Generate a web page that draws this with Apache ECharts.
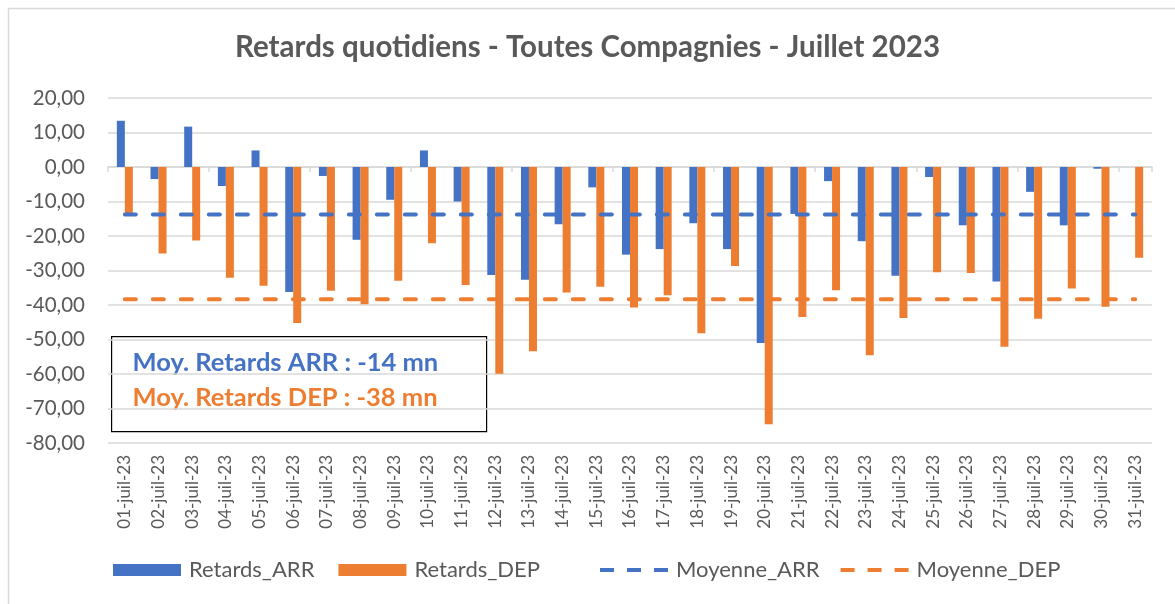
<!DOCTYPE html>
<html>
<head>
<meta charset="utf-8">
<script src="https://cdn.jsdelivr.net/npm/echarts@6/dist/echarts.min.js"></script>
<style>
  html, body { margin: 0; padding: 0; background: #fff; }
  #chart { width: 1175px; height: 604px; }
</style>
</head>
<body>
<div id="chart"></div>
<script>
// jours du mois
var jours = [
  "01-juil-23", "02-juil-23", "03-juil-23", "04-juil-23", "05-juil-23", "06-juil-23",
  "07-juil-23", "08-juil-23", "09-juil-23", "10-juil-23", "11-juil-23", "12-juil-23",
  "13-juil-23", "14-juil-23", "15-juil-23", "16-juil-23", "17-juil-23", "18-juil-23",
  "19-juil-23", "20-juil-23", "21-juil-23", "22-juil-23", "23-juil-23", "24-juil-23",
  "25-juil-23", "26-juil-23", "27-juil-23", "28-juil-23", "29-juil-23", "30-juil-23",
  "31-juil-23"
];
// retards arrivée (mn)
var retardsArr = [
  13.4, -3.5, 11.7, -5.5, 4.8, -36.2, -2.6, -21.1, -9.5, 4.8, -10.0,
  -31.3, -32.7, -16.6, -5.9, -25.4, -23.8, -16.3, -23.8, -51.0, -13.6,
  -4.1, -21.5, -31.5, -2.9, -16.9, -33.2, -7.2, -16.9, -0.5, 0
];
// retards départ (mn)
var retardsDep = [
  -13.5, -25.1, -21.3, -32.1, -34.4, -45.2, -35.9, -39.8, -33.0, -22.1, -34.2,
  -59.9, -53.4, -36.4, -34.7, -40.7, -37.2, -48.2, -28.7, -74.6, -43.5,
  -35.7, -54.6, -43.8, -30.5, -30.7, -52.1, -44.0, -35.2, -40.5, -26.3
];
// moyennes
var moyenneArr = [
  -13.8, -13.8, -13.8, -13.8, -13.8, -13.8, -13.8, -13.8, -13.8, -13.8, -13.8,
  -13.8, -13.8, -13.8, -13.8, -13.8, -13.8, -13.8, -13.8, -13.8, -13.8,
  -13.8, -13.8, -13.8, -13.8, -13.8, -13.8, -13.8, -13.8, -13.8, -13.8
];
var moyenneDep = [
  -38.3, -38.3, -38.3, -38.3, -38.3, -38.3, -38.3, -38.3, -38.3, -38.3, -38.3,
  -38.3, -38.3, -38.3, -38.3, -38.3, -38.3, -38.3, -38.3, -38.3, -38.3,
  -38.3, -38.3, -38.3, -38.3, -38.3, -38.3, -38.3, -38.3, -38.3, -38.3
];

var bleu = "#4472C4";
var orange = "#ED7D31";
var gris = "#595959";
var police = "Lato";
// icône pointillée pour la légende des moyennes
var iconeTirets = "path://M0,0h14v4h-14z M27,0h14v4h-14z M54,0h14v4h-14z";

var legendeBase = {
  top: 554,
  itemWidth: 68,
  itemHeight: 12,
  symbolKeepAspect: true,
  textStyle: { fontFamily: police, fontSize: 22, color: gris, padding: [0, 0, 0, 3] }
};

var myChart = echarts.init(document.getElementById("chart"));
var option = {
  animation: false,
  textStyle: { fontFamily: police },
  title: {
    text: "Retards quotidiens - Toutes Compagnies - Juillet 2023",
    left: "center",
    top: 27,
    textStyle: { fontFamily: police, fontSize: 29.5, fontWeight: "bold", color: gris }
  },
  grid: { left: 108, right: 23, top: 98, bottom: 161 },
  legend: [
    Object.assign({}, legendeBase, {
      left: 108,
      itemGap: 24,
      data: [
        { name: "Retards_ARR", icon: "rect" },
        { name: "Retards_DEP", icon: "rect" }
      ]
    }),
    Object.assign({}, legendeBase, {
      left: 595,
      itemGap: 21,
      data: [
        { name: "Moyenne_ARR", icon: iconeTirets, itemStyle: { color: bleu } },
        { name: "Moyenne_DEP", icon: iconeTirets, itemStyle: { color: orange } }
      ]
    })
  ],
  xAxis: [
    {
      type: "category",
      data: jours,
      axisLine: { show: false, onZero: false },
      axisTick: { show: false },
      axisLabel: {
        rotate: 90,
        interval: 0,
        margin: 12,
        fontFamily: police,
        fontSize: 17,
        color: gris
      }
    },
    {
      type: "category",
      data: jours,
      position: "bottom",
      axisLine: { show: true, onZero: true, lineStyle: { color: "#d9d9d9", width: 1.5 } },
      axisTick: { show: true, length: 5, lineStyle: { color: "#d9d9d9", width: 1.5 } },
      axisLabel: { show: false }
    }
  ],
  yAxis: {
    type: "value",
    min: -80,
    max: 20,
    interval: 10,
    axisLine: { show: false },
    axisTick: { show: false },
    splitLine: { lineStyle: { color: "#d9d9d9", width: 1.5 } },
    axisLabel: {
      margin: 23,
      fontFamily: police,
      fontSize: 20.5,
      color: gris,
      formatter: function (v) { return v.toFixed(2).replace(".", ","); }
    }
  },
  series: [
    {
      name: "Retards_ARR",
      type: "bar",
      barWidth: 8,
      barGap: "0%",
      itemStyle: { color: bleu },
      data: retardsArr
    },
    {
      name: "Retards_DEP",
      type: "bar",
      barWidth: 8,
      itemStyle: { color: orange },
      data: retardsDep
    },
    {
      name: "Moyenne_ARR",
      type: "line",
      symbol: "none",
      itemStyle: { color: bleu },
      lineStyle: { color: bleu, width: 4, type: [11, 17], cap: "round" },
      data: moyenneArr
    },
    {
      name: "Moyenne_DEP",
      type: "line",
      symbol: "none",
      itemStyle: { color: orange },
      lineStyle: { color: orange, width: 4, type: [11, 17], cap: "round" },
      data: moyenneDep
    }
  ],
  graphic: [
    {
      type: "rect",
      left: 6,
      top: 6,
      shape: { width: 1175, height: 610 },
      style: { fill: "none", stroke: "#d9d9d9", lineWidth: 1.5 },
      silent: true
    },
    {
      type: "group",
      left: 111,
      top: 336,
      z: 100,
      children: [
        {
          type: "rect",
          shape: { x: 0, y: 0, width: 375, height: 95 },
          style: { fill: "#fff", stroke: "#000", lineWidth: 1.2 }
        },
        {
          type: "text",
          left: 21,
          top: 13,
          style: {
            text: "Moy. Retards ARR : -14 mn",
            fill: bleu,
            font: "bold 25.5px Lato"
          }
        },
        {
          type: "text",
          left: 21,
          top: 48,
          style: {
            text: "Moy. Retards DEP : -38 mn",
            fill: orange,
            font: "bold 25.5px Lato"
          }
        }
      ]
    }
  ]
};
myChart.setOption(option);
</script>
</body>
</html>
